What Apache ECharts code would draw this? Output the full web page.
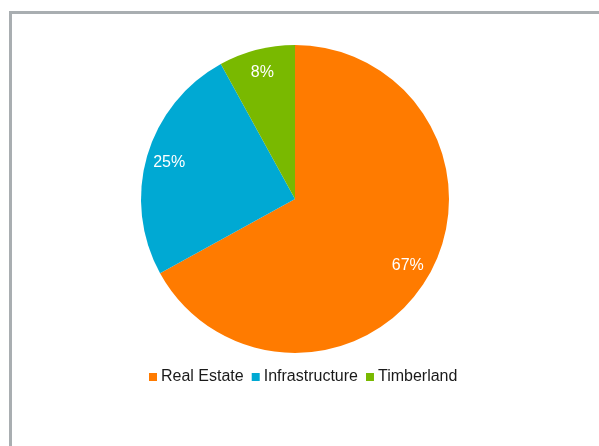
<!DOCTYPE html>
<html>
<head>
<meta charset="utf-8">
<script src="https://cdn.jsdelivr.net/npm/echarts@6/dist/echarts.min.js"></script>
<style>
  html, body { margin: 0; padding: 0; background: #fff; overflow: hidden; }
  #frame { position: absolute; left: 9px; top: 11px; width: 700px; height: 600px;
           border: 3px solid #a9aeb1; box-sizing: border-box; }
  #chart { position: absolute; left: 0; top: 0; width: 599px; height: 446px; }
</style>
</head>
<body>
<div id="frame"></div>
<div id="chart"></div>
<script>
// Allocation shares by asset class (percent)
const categories = ['Real Estate', 'Infrastructure', 'Timberland'];
const shares = [67, 25, 8];
const colors = ['#ff7b00', '#00a9d3', '#79b900'];

const pieData = categories.map((name, i) => ({
  name: name,
  value: shares[i],
  itemStyle: { color: colors[i] }
}));

const chart = echarts.init(document.getElementById('chart'), null, { renderer: 'canvas' });
chart.setOption({
  backgroundColor: 'transparent',
  animation: false,
  legend: {
    data: categories,
    left: 149,
    top: 369,
    icon: 'rect',
    itemWidth: 8,
    itemHeight: 8,
    itemGap: 8,
    padding: 0,
    textStyle: { fontFamily: 'Liberation Sans, Arial, sans-serif', fontSize: 16, color: '#1a1a1a', padding: [0, 0, 0, -1] }
  },
  series: [
    {
      // filled slices
      type: 'pie',
      z: 1,
      center: [295, 199],
      radius: [0, 154],
      startAngle: 90,
      clockwise: true,
      silent: true,
      label: { show: false },
      labelLine: { show: false },
      itemStyle: { borderWidth: 0 },
      data: pieData
    },
    {
      // percentage labels placed near the rim
      type: 'pie',
      z: 2,
      center: [295, 199],
      radius: [102, 154],
      startAngle: 90,
      clockwise: true,
      silent: true,
      legendHoverLink: false,
      itemStyle: { color: 'rgba(0,0,0,0)', borderWidth: 0 },
      label: {
        show: true,
        position: 'inside',
        formatter: '{c}%',
        color: '#ffffff',
        fontFamily: 'Liberation Sans, Arial, sans-serif',
        fontSize: 16
      },
      labelLine: { show: false },
      data: categories.map((name, i) => ({ name: name, value: shares[i] }))
    }
  ]
});
</script>
</body>
</html>
